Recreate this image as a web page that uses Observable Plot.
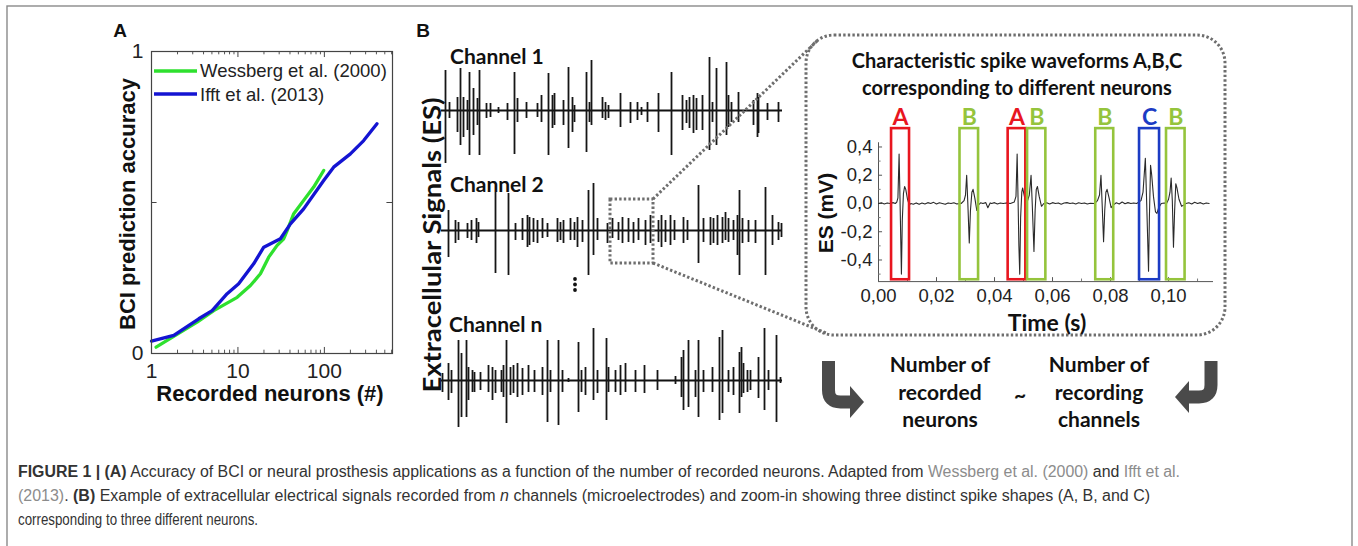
<!DOCTYPE html>
<html><head><meta charset="utf-8">
<script src="https://cdn.jsdelivr.net/npm/d3@7"></script>
<script src="https://cdn.jsdelivr.net/npm/@observablehq/plot@0.6"></script>
<style>
body{margin:0;background:#fff;}
#fig{position:relative;width:1358px;height:546px;overflow:hidden;background:#fff;}
</style></head><body><div id="fig"></div>
<script>
// ---------- Panel A data ----------
const seriesNames = ["Wessberg et al. (2000)", "Ifft et al. (2013)"];
const seriesColors = ["#2ee02e", "#1414d2"];
const neuronsW = [1.13, 3.37, 5.25, 9.8, 13.95, 18.2, 22.7, 28.4, 33.9, 37.1, 44.2, 57.6, 75.2, 98.2];
const accW     = [0.021, 0.104, 0.142, 0.186, 0.225, 0.264, 0.319, 0.358, 0.380, 0.407, 0.463, 0.507, 0.551, 0.606];
const neuronsI = [1.0, 1.81, 3.52, 5.03, 7.5, 10.2, 15.2, 19.9, 31, 40.5, 57.6, 98.2, 128, 200, 285, 406];
const accI     = [0.041, 0.060, 0.115, 0.142, 0.198, 0.231, 0.297, 0.352, 0.380, 0.429, 0.479, 0.573, 0.617, 0.661, 0.705, 0.761];
const xTicksA = [1, 10, 100];
const xMinorA = [2,3,4,5,6,7,8,9,20,30,40,50,60,70,80,90,200,300,400,500,600];
const yTicksA = [0, 1];

// ---------- Channel traces (time, up amplitude, down amplitude) ----------
const ch1T    = [4,8,16,19,22,26,28,32,36,38,45,49,57,66,73,76,85,96,100,107,111,113,122,127,131,133,145,148,150,161,164,167,179,189,196,200,206,217,230,241,245,248,252,255,261,268,271,275,285,287,290,297,312,316,317,326,337];
const ch1Up   = [40,8,13,42,13,10,38,22,12,40,7,7,3,7,38,12,8,7,15,37,15,17,10,43,13,5,38,8,50,13,8,5,17,8,8,3,8,17,38,15,10,13,15,12,15,53,8,42,48,15,8,18,10,17,13,7,8];
const ch1Down = [53,8,22,35,27,20,45,25,15,45,8,7,3,10,44,12,8,7,12,45,18,15,15,38,22,12,42,12,15,8,10,8,17,13,10,5,12,22,45,20,13,18,23,20,20,40,12,35,25,17,12,12,15,27,23,10,12];

const ch2T    = [7,14,17,26,30,35,37,54,67,74,81,86,88,92,96,101,106,116,119,122,129,133,136,141,147,152,156,166,171,177,181,187,192,197,204,209,217,220,224,229,233,242,246,257,262,269,272,276,281,284,287,292,296,298,301,307,314,324,331,337,340];
const ch2Up   = [20,10,8,7,10,12,8,38,37,7,12,15,13,12,10,12,7,12,8,10,12,8,13,10,40,47,12,7,12,8,13,12,8,12,10,15,10,15,10,15,10,13,10,45,12,13,12,15,13,18,12,10,15,40,12,10,10,43,15,8,7];
const ch2Down = [27,13,10,8,10,13,7,43,45,10,10,17,15,12,13,8,7,12,10,13,10,10,17,12,45,25,10,13,8,10,13,12,13,10,15,13,12,17,12,15,10,13,10,33,12,15,13,15,13,10,12,10,25,45,13,12,13,45,15,10,7];

const chnT    = [1,7,10,17,20,25,27,31,33,39,47,51,54,60,62,65,69,72,76,81,87,93,101,106,109,117,121,127,137,140,144,152,156,165,167,174,179,184,194,203,216,234,240,242,247,254,257,262,271,278,281,287,292,298,300,302,306,309,317,323,327,335,339];
const chnUp   = [7,17,10,40,27,40,13,10,8,8,15,13,10,10,15,40,13,15,17,12,15,10,13,40,10,40,10,2,38,10,13,52,10,42,13,10,15,17,10,15,10,4,23,30,40,10,40,10,13,43,50,10,13,28,33,17,10,10,23,52,10,45,3];
const chnDown = [12,20,13,47,37,37,20,12,12,10,12,20,13,12,17,43,15,13,17,15,12,12,15,42,12,45,12,2,32,12,15,20,13,40,12,12,15,12,12,13,10,4,17,30,27,17,37,12,12,40,33,12,15,33,17,13,12,10,18,30,10,42,3];

// ---------- Inset waveform (time s, mV) ----------
const waveT = [0.000,0.001,0.002,0.003,0.004,0.005,0.0058,
 0.0063,0.0067,0.0071,0.0074,0.0077,0.0079,0.0082,0.0086,0.0090,0.0094,0.0100,0.0106,0.0112,
 0.012,0.013,0.014,0.015,0.016,0.017,0.018,0.019,0.020,0.021,0.022,0.023,0.024,0.025,0.026,0.027,0.0285,
 0.0295,0.0300,0.0304,0.0308,0.0313,0.0317,0.0322,0.0326,0.0332,0.0339,0.0345,0.0352,
 0.036,0.037,0.0377,0.0385,0.039,0.040,0.041,0.042,0.043,0.044,0.0455,
 0.0468,0.0474,0.0478,0.0481,0.0484,0.0487,0.0490,0.0494,0.0497,0.0502,0.0508,0.0514,
 0.0520,0.0526,0.0530,0.0536,0.0540,0.0544,0.0548,0.0554,0.0562,0.0570,
 0.058,0.059,0.060,0.061,0.062,0.063,0.064,0.065,0.066,0.067,0.068,0.069,0.070,0.071,0.072,0.073,0.0745,
 0.0755,0.0762,0.0767,0.0771,0.0776,0.0780,0.0784,0.0788,0.0795,0.0802,0.0810,0.082,
 0.083,0.084,0.085,0.086,0.087,0.088,0.089,
 0.0905,0.0912,0.0920,0.0924,0.0928,0.0931,0.0934,0.0938,0.0942,0.0948,0.0955,0.0960,0.0966,0.0975,
 0.0985,0.0993,
 0.1000,0.1005,0.1009,0.1013,0.1017,0.1021,0.1025,0.1029,0.1036,0.1045,0.1053,0.106,
 0.107,0.108,0.109,0.110,0.111,0.112,0.113,0.114];
const waveV = [0.000,0.005,-0.003,0.004,0.000,0.006,0.0,
 0.01,0.04,0.35,0.05,-0.28,-0.50,-0.12,0.07,0.12,0.10,0.03,-0.01,0.0,
 -0.005,0.004,-0.006,0.003,-0.004,0.006,0.0,0.008,-0.004,0.005,0.0,-0.006,0.004,0.0,0.005,-0.003,0.0,
 0.02,0.06,0.20,0.0,-0.28,-0.05,0.08,0.10,0.04,-0.05,-0.01,0.005,
 0.0,0.006,-0.03,0.004,0.0,0.006,-0.004,0.003,0.0,0.004,0.0,
 0.01,0.05,0.35,0.05,-0.30,-0.50,-0.10,0.08,0.11,0.06,0.0,0.02,
 0.06,0.20,0.0,-0.34,-0.05,0.10,0.12,0.05,-0.02,0.0,
 0.005,-0.004,0.006,0.0,0.004,-0.005,0.003,0.006,0.0,0.004,-0.003,0.005,0.0,0.004,-0.004,0.002,0.0,
 0.02,0.06,0.20,0.0,-0.27,-0.05,0.08,0.10,0.04,-0.03,-0.01,0.005,
 -0.004,0.01,-0.002,0.006,0.0,0.004,0.0,
 0.02,0.08,0.32,0.05,-0.25,-0.48,-0.10,0.27,0.20,0.05,-0.06,-0.07,-0.03,0.0,
 0.004,0.0,
 0.03,0.08,0.18,0.02,-0.31,-0.05,0.14,0.11,0.03,-0.02,-0.01,0.0,
 0.005,-0.003,0.008,0.0,0.006,-0.004,0.003,0.0];
const boxLabels = ["A","B","A","B","B","C","B"];
const boxStart  = [0.0045,0.0281,0.0447,0.0514,0.0749,0.0900,0.0993];
const boxEnd    = [0.0107,0.0345,0.0508,0.0577,0.0811,0.0969,0.1057];
const neuronNames  = ["A","B","C"];
const neuronColors = ["#e8161f","#95c43c","#1c3cc4"];
const insetXTicks = [0,0.02,0.04,0.06,0.08,0.10];
const insetXMinor = [0.01,0.03,0.05,0.07,0.09,0.11];
const insetYTicks = [-0.4,-0.2,0,0.2,0.4];
const insetYMinor = [-0.5,-0.3,-0.1,0.1,0.3];

// ---------- helpers ----------
const fig = document.getElementById("fig");
function place(el, left, top) {
  el.style.position = "absolute";
  el.style.left = left + "px";
  el.style.top = top + "px";
  fig.appendChild(el);
  return el;
}

// ---------- Panel A ----------
const seriesA = [
  ...neuronsW.map((n, i) => ({n, acc: accW[i], s: seriesNames[0]})),
  ...neuronsI.map((n, i) => ({n, acc: accI[i], s: seriesNames[1]}))
];
const xMaxA = 614;
const plotA = Plot.plot({
  width: 310, height: 350, marginLeft: 56, marginRight: 13, marginTop: 11, marginBottom: 37,
  x: {type: "log", domain: [1, xMaxA]},
  y: {domain: [0, 1]},
  color: {domain: seriesNames, range: seriesColors},
  style: {fontFamily: "'Liberation Sans', Arial, sans-serif", fontSize: "21px", color: "#222", background: "transparent", overflow: "visible"},
  marks: [
    Plot.ruleX(xMinorA, {x: d => d, y1: 0, y2: 0.011, stroke: "#555"}),
    Plot.ruleX(xMinorA, {x: d => d, y1: 0.989, y2: 1, stroke: "#555"}),
    Plot.ruleX(xTicksA, {x: d => d, y1: 0, y2: 0.02, stroke: "#444"}),
    Plot.ruleX(xTicksA, {x: d => d, y1: 0.98, y2: 1, stroke: "#444"}),
    Plot.ruleY([0.5], {y: d => d, x1: 1, x2: 1.16, stroke: "#444"}),
    Plot.ruleY([0.5], {y: d => d, x1: xMaxA / 1.16, x2: xMaxA, stroke: "#444"}),
    Plot.line(seriesA, {x: "n", y: "acc", stroke: "s", strokeWidth: 3.3}),
    Plot.frame({stroke: "#444", strokeWidth: 1.2}),
    Plot.axisX({ticks: xTicksA, tickFormat: d => String(d), tickSize: 0, tickPadding: 10, label: null}),
    Plot.axisY({ticks: yTicksA, tickFormat: d => String(d), tickSize: 0, tickPadding: 8, label: null})
  ]
});
place(plotA, 95, 40);

// ---------- Channels ----------
function channelPlot(T, U, D) {
  const spikes = T.map((t, i) => ({t, up: U[i], down: D[i]}));
  return Plot.plot({
    width: 341, height: 120, margin: 0,
    x: {domain: [0, 341], axis: null},
    y: {domain: [-60, 60], axis: null},
    style: {background: "transparent", overflow: "visible"},
    marks: [
      Plot.ruleY([0], {stroke: "#111", strokeWidth: 2}),
      Plot.ruleX(spikes, {x: "t", y1: d => -d.down, y2: "up", stroke: "#161616", strokeWidth: 1.8})
    ]
  });
}
place(channelPlot(ch1T, ch1Up, ch1Down), 441, 50);
place(channelPlot(ch2T, ch2Up, ch2Down), 441, 170);
place(channelPlot(chnT, chnUp, chnDown), 441, 320);

// ---------- Inset ----------
const wave = waveT.map((t, i) => ({t, v: waveV[i]}));
const boxes = boxLabels.map((label, i) => ({label, start: boxStart[i], end: boxEnd[i], color: neuronColors[neuronNames.indexOf(label)]}));
const comma = (d, k) => d.toFixed(k).replace(".", ",");
const insetPlot = Plot.plot({
  width: 405, height: 235, marginLeft: 58, marginRight: 12, marginTop: 4.1, marginBottom: 53.9,
  x: {domain: [0, 0.1155]},
  y: {domain: [-0.553, 0.70]},
  color: {type: "identity"},
  style: {fontFamily: "'Liberation Sans', Arial, sans-serif", fontSize: "18.5px", color: "#222", background: "transparent", overflow: "visible"},
  marks: [
    Plot.ruleY([-0.553], {x1: 0, x2: 0.1155, stroke: "#555"}),
    Plot.ruleX([0], {y1: -0.553, y2: 0.43, stroke: "#555"}),
    Plot.ruleX(insetXTicks, {x: d => d, y1: -0.553, y2: -0.525, stroke: "#555"}),
    Plot.ruleX(insetXMinor, {x: d => d, y1: -0.553, y2: -0.535, stroke: "#777"}),
    Plot.ruleY(insetYTicks, {y: d => d, x1: 0, x2: 0.0014, stroke: "#555"}),
    Plot.ruleY(insetYMinor, {y: d => d, x1: 0, x2: 0.0009, stroke: "#777"}),
    Plot.axisX({ticks: insetXTicks, tickFormat: d => comma(d, 2), tickSize: 0, tickPadding: 7, label: null}),
    Plot.axisY({ticks: insetYTicks, tickFormat: d => comma(d, 1), tickSize: 0, tickPadding: 6, label: null}),
    Plot.line(wave, {x: "t", y: "v", stroke: "#2a2a2a", strokeWidth: 1.1}),
    Plot.rect(boxes, {x1: "start", x2: "end", y1: -0.54, y2: 0.53, stroke: "color", fill: "none", strokeWidth: 2.6}),
    Plot.text(boxes, {x: d => (d.start + d.end) / 2, y: 0.61, text: "label", fill: "color", fontWeight: "bold", fontSize: 23, fontFamily: "Lato, 'Open Sans', sans-serif"})
  ]
});
place(insetPlot, 820, 100);

// ---------- Overlay: texts, frame, connectors, arrows, caption ----------
const B = "font-family:'Liberation Sans',Arial,sans-serif;font-weight:bold;";
const C = "font-family:Lato,'Open Sans',sans-serif;font-weight:bold;";
const dot = 'stroke="#6e6e6e" stroke-width="3" stroke-dasharray="2.4 2.2" fill="none"';
const overlay = `
<svg xmlns="http://www.w3.org/2000/svg" width="1358" height="546" style="position:absolute;left:0;top:0;pointer-events:none">
  <rect x="7" y="6" width="1345" height="560" fill="none" stroke="#8a8a8a" stroke-width="1.4"/>
  <text x="120" y="30" text-anchor="middle" dominant-baseline="central" style="${B}font-size:19px" fill="#111">A</text>
  <text x="423" y="30" text-anchor="middle" dominant-baseline="central" style="${B}font-size:19px" fill="#111">B</text>
  <text transform="translate(127,204) rotate(-90)" text-anchor="middle" dominant-baseline="central" style="${B}font-size:22px" fill="#111">BCI prediction accuracy</text>
  <text x="270" y="393" text-anchor="middle" dominant-baseline="central" style="${B}font-size:22px" fill="#111">Recorded neurons (#)</text>
  <line x1="154" y1="71" x2="197" y2="71" stroke="${seriesColors[0]}" stroke-width="3.5"/>
  <line x1="154" y1="94" x2="197" y2="94" stroke="${seriesColors[1]}" stroke-width="3.5"/>
  <text x="200" y="77" style="font-family:'Liberation Sans',Arial,sans-serif;font-size:18.5px" fill="#222">${seriesNames[0]}</text>
  <text x="200" y="100.5" style="font-family:'Liberation Sans',Arial,sans-serif;font-size:18.5px" fill="#222">${seriesNames[1]}</text>

  <text transform="translate(431,245) rotate(-90)" text-anchor="middle" dominant-baseline="central" textLength="295" lengthAdjust="spacingAndGlyphs" style="${C}font-size:24px" fill="#111">Extracellular Signals (ES)</text>
  <text x="450" y="55" dominant-baseline="central" style="${C}font-size:21px" fill="#111">Channel 1</text>
  <text x="450" y="183" dominant-baseline="central" style="${C}font-size:21px" fill="#111">Channel 2</text>
  <text x="449" y="323" dominant-baseline="central" style="${C}font-size:21px" fill="#111">Channel n</text>
  <circle cx="575" cy="279" r="1.9" fill="#111"/><circle cx="575" cy="284.5" r="1.9" fill="#111"/><circle cx="575" cy="290" r="1.9" fill="#111"/>

  <rect x="610" y="199" width="43" height="64" ${dot}/>
  <line x1="653" y1="199" x2="818" y2="40" ${dot}/>
  <line x1="653" y1="263" x2="826" y2="333" ${dot}/>
  <rect x="806" y="35" width="419" height="300" rx="28" ry="28" ${dot}/>

  <text x="1017" y="60" text-anchor="middle" dominant-baseline="central" style="${C}font-size:20px" fill="#111">Characteristic spike waveforms A,B,C</text>
  <text x="1017" y="87" text-anchor="middle" dominant-baseline="central" style="${C}font-size:20px" fill="#111">corresponding to different neurons</text>
  <text transform="translate(825,213) rotate(-90)" text-anchor="middle" dominant-baseline="central" style="${B}font-size:21px" fill="#111">ES (mV)</text>
  <text x="1047" y="322" text-anchor="middle" dominant-baseline="central" style="${C}font-size:23px" fill="#111">Time (s)</text>

  <path d="M828.5 361 V390 Q828.5 402 840.5 402 H851" stroke="#4a4a4a" stroke-width="13" fill="none"/>
  <polygon points="850,386 864,402 850,418" fill="#4a4a4a"/>
  <path d="M1211 361 V385 Q1211 397 1199 397 H1188" stroke="#4a4a4a" stroke-width="13" fill="none"/>
  <polygon points="1189,381 1175,397 1189,413" fill="#4a4a4a"/>
  <g text-anchor="middle" dominant-baseline="central" style="${C}font-size:21px" fill="#111">
    <text x="940" y="363">Number of</text><text x="940" y="391">recorded</text><text x="940" y="418">neurons</text>
    <text x="1020" y="394">~</text>
    <text x="1099" y="363">Number of</text><text x="1099" y="391">recording</text><text x="1099" y="418">channels</text>
  </g>

  <g style="font-family:'Liberation Sans',Arial,sans-serif;font-size:16px" fill="#333">
    <text x="18" y="477" textLength="1162" lengthAdjust="spacingAndGlyphs"><tspan font-weight="bold">FIGURE 1 | (A)</tspan> Accuracy of BCI or neural prosthesis applications as a function of the number of recorded neurons. Adapted from <tspan fill="#8c8c8c">Wessberg et al. (2000)</tspan> and <tspan fill="#8c8c8c">Ifft et al.</tspan></text>
    <text x="18" y="501" textLength="1132" lengthAdjust="spacingAndGlyphs"><tspan fill="#8c8c8c">(2013)</tspan>. <tspan font-weight="bold">(B)</tspan> Example of extracellular electrical signals recorded from <tspan font-style="italic">n</tspan> channels (microelectrodes) and zoom-in showing three distinct spike shapes (A, B, and C)</text>
    <text x="18" y="525" textLength="240" lengthAdjust="spacingAndGlyphs">corresponding to three different neurons.</text>
  </g>
</svg>`;
const wrap = document.createElement("div");
wrap.innerHTML = overlay;
fig.appendChild(wrap.firstElementChild);
</script>
</body></html>
